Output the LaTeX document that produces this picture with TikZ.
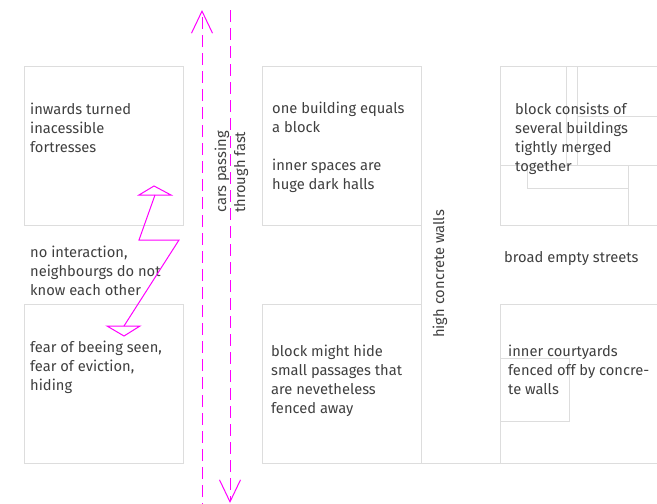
\documentclass[tikz,border=0pt]{standalone}
\usepackage{fontspec}
\setmainfont{Fira Sans}
\usetikzlibrary{arrows.meta}

\definecolor{wall}{HTML}{DDDDDD}
\definecolor{ink}{HTML}{3F3F3F}
\definecolor{traffic}{HTML}{FF00FF}

\tikzset{
	block/.style={draw=wall,line width=1pt,minimum width=159pt,minimum height=159pt,inner sep=0pt,outer sep=0pt,anchor=north west},
	wallline/.style={draw=wall,line width=1pt},
	note/.style={text=ink,font=\fontsize{14.7}{19}\selectfont,align=left,anchor=base west,inner sep=0pt},
	lane/.style={draw=traffic,line width=1pt,dash pattern=on 12pt off 6pt,-{Straight Barb[length=22pt,width=21pt]}},
	bolt/.style={draw=traffic,line width=1pt,line join=miter}
}

\begin{document}
\begin{tikzpicture}[x=1pt,y=-1pt]
		\useasboundingbox (0,0) rectangle (657,504);

		\node[block] (fort) at (24,66) {};
		\node[block] (hall) at (262,66) {};
		\node[block,minimum width=180pt] (merged) at (500,66) {};
		\node[block] (hide) at (24,304) {};
		\node[block] (passage) at (262,304) {};
		\node[block,minimum width=180pt] (court) at (500,304) {};

		\draw[wallline] (hall.south east) -- (passage.north east);
		\draw[wallline] (passage.south east) -- (court.south west);

		\draw[wallline] (566,66) -- (566,165);
		\draw[wallline] (577,66) -- (577,165);
		\draw[wallline] (577,116) -- (680,116);
		\draw[wallline] (500,165) -- (680,165);
		\draw[wallline] (527,165) -- (527,188) -- (628,188);
		\draw[wallline] (628,165) -- (628,225);
		\draw[wallline] (500,358) -- (569,358) -- (569,421) -- (500,421);

		% base anchor sits on the last line
		\node[note] (fortress) at (30,152) {inwards turned\\inacessible\\fortresses};
		\node[note] (halls) at (272,189) {one building equals\\a block\\[19pt]inner spaces are\\huge dark halls};
		\node[note] (buildings) at (515,171) {block consists of\\several buildings\\tightly merged\\together};
		\node[note] (nointer) at (30,295) {no interaction,\\neighbourgs do not\\know each other};
		\node[note] (fear) at (30,390) {fear of beeing seen,\\fear of eviction,\\hiding};
		\node[note] (passages) at (271,413) {block might hide\\small passages that\\are nevetheless\\fenced away};
		\node[note] (courtyards) at (508,394) {inner courtyards\\fenced off by concre-\\te walls};
		\node[note] (streets) at (504,262) {broad empty streets};
		\node[note,rotate=90] (walls) at (444,338) {high concrete walls};
		\node[note,rotate=90] (cars) at (245,213) {cars passing\\through fast};

		\coordinate (upfrom) at (202,515);
		\coordinate (upto) at (202,10);
		\coordinate (downfrom) at (230,10);
		\coordinate (downto) at (230,503);
		\draw[lane] (upfrom) -- (upto);
		\draw[lane] (downfrom) -- (downto);

		\coordinate (boltA) at (155,195);
		\coordinate (boltB) at (139,240);
		\coordinate (boltC) at (179,240);
		\coordinate (boltD) at (124,326);
		\draw[bolt] (boltA) -- (boltB) -- (boltC) -- (boltD);
		\draw[bolt] (boltA) -- ++(-16,0) -- (154,186) -- (171,195) -- cycle;
		\draw[bolt] (boltD) -- ++(-17,0) -- (124,336) -- (140,326) -- cycle;
	\end{tikzpicture}
\end{document}
